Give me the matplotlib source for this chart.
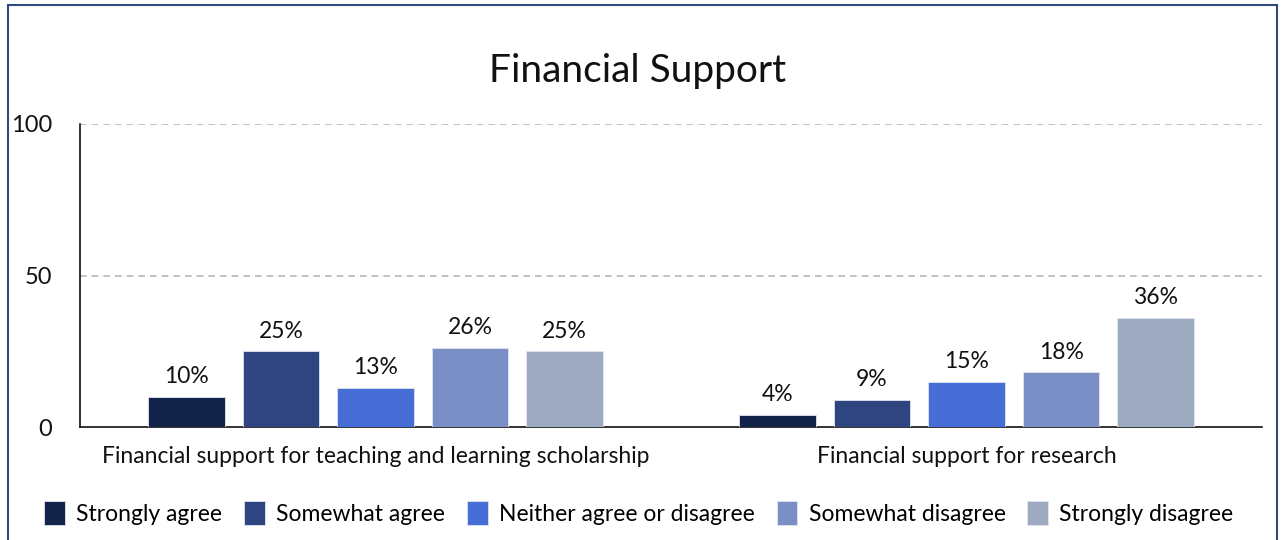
import matplotlib
matplotlib.use("Agg")
import matplotlib.pyplot as plt
import numpy as np
from matplotlib.patches import Rectangle, Patch

categories = ["Financial support for teaching and learning scholarship",
              "Financial support for research"]
series = ["Strongly agree", "Somewhat agree", "Neither agree or disagree",
          "Somewhat disagree", "Strongly disagree"]
values = [
    [10, 4],
    [25, 9],
    [13, 15],
    [26, 18],
    [25, 36],
]
colors = ["#14234a", "#2f4580", "#476ed6", "#7a8fc6", "#9eaac0"]
yticks = [0, 50, 100]

plt.rcParams['font.family'] = ['Lato', 'DejaVu Sans']

fig = plt.figure(figsize=(12.81, 5.40), dpi=100)
W, H = 1281, 540
ax = fig.add_axes([80 / W, 1 - 427 / H, (1262 - 80) / W, (427 - 124) / H])

x = np.arange(len(categories))
pitch = 0.16
width = 0.13
for i, (s, v, c) in enumerate(zip(series, values, colors)):
    pos = x + (i - 2) * pitch
    ax.bar(pos, v, width=width, color=c, label=s, zorder=3,
           edgecolor='#dfe4f0', linewidth=0.6)
    for px, val in zip(pos, v):
        ax.annotate(f"{val}%", (px, val), xytext=(0, 7), textcoords='offset points',
                    ha='center', va='bottom', fontsize=16.5, color='#111111')

ax.set_xlim(-0.5, 1.5)
ax.set_ylim(0, 100)
ax.set_yticks(yticks)
ax.set_yticklabels([str(t) for t in yticks], fontsize=17, color='#111111')
ax.tick_params(axis='y', length=0, pad=20)
ax.set_xticks(x)
ax.set_xticklabels(categories, fontsize=16.5, color='#111111')
ax.tick_params(axis='x', length=0, pad=13.5)
for t in [50, 100]:
    ax.axhline(t, color='#b8b8b8', linestyle=(0, (4, 3)), linewidth=1.2, zorder=1)
for sp in ['top', 'right']:
    ax.spines[sp].set_visible(False)
ax.spines['left'].set_color('#111111')
ax.spines['bottom'].set_color('#111111')
ax.spines['left'].set_linewidth(1.2)
ax.spines['bottom'].set_linewidth(1.2)

fig.text(638 / W, 1 - 71 / H, "Financial Support", ha='center', va='center',
         fontsize=28, color='#111111')

handles = [Patch(facecolor=c, edgecolor='#dfe4f0', linewidth=0.6) for c in colors]
fig.legend(handles, series, loc='center', bbox_to_anchor=(639 / W, 1 - 513 / H),
           ncol=5, frameon=False, fontsize=16.5, handlelength=0.9, handleheight=1.3,
           handletextpad=0.5, columnspacing=0.95)

fig.patches.append(Rectangle((8 / W, -0.05), (1277 - 8) / W, 1 - 5 / H + 0.05,
                             transform=fig.transFigure, fill=False,
                             edgecolor='#2f4a80', linewidth=1.5))

fig.savefig("out.png", dpi=100)
